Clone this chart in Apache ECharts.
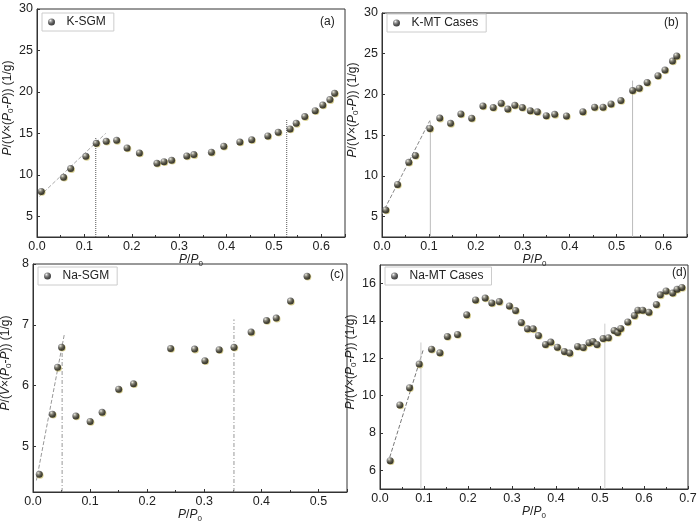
<!DOCTYPE html>
<html>
<head>
<meta charset="utf-8">
<script src="https://cdn.jsdelivr.net/npm/echarts@6/dist/echarts.min.js"></script>
<style>
  html, body { margin: 0; padding: 0; background: #fff; }
  #main { width: 700px; height: 522px; }
</style>
</head>
<body>
<div id="main"></div>
<script>
// 数据 (P/P0, P/(V(P0-P)))
var kSgm = [[0.009,8.0],[0.056,9.7],[0.071,10.75],[0.103,12.23],[0.125,13.8],[0.146,14.04],[0.168,14.16],[0.19,13.24],[0.216,12.64],[0.253,11.39],[0.268,11.59],[0.284,11.75],[0.316,12.27],[0.331,12.44],[0.368,12.72],[0.394,13.44],[0.428,13.96],[0.453,14.24],[0.487,14.69],[0.509,15.13],[0.534,15.53],[0.547,16.21],[0.565,17.02],[0.587,17.74],[0.603,18.42],[0.618,19.07],[0.628,19.83]];
var kMt = [[0.008,5.82],[0.033,8.95],[0.057,11.67],[0.071,12.5],[0.102,15.83],[0.123,17.1],[0.146,16.45],[0.168,17.6],[0.191,17.07],[0.215,18.59],[0.237,18.39],[0.254,18.92],[0.268,18.22],[0.283,18.67],[0.299,18.39],[0.316,18.01],[0.331,17.89],[0.35,17.4],[0.368,17.56],[0.393,17.36],[0.428,17.89],[0.453,18.43],[0.471,18.43],[0.488,18.84],[0.509,19.25],[0.534,20.49],[0.548,20.77],[0.565,21.47],[0.588,22.3],[0.603,23.0],[0.619,24.11],[0.628,24.73]];
var naSgm = [[0.011,4.54],[0.034,5.53],[0.043,6.3],[0.05,6.63],[0.075,5.5],[0.1,5.41],[0.121,5.56],[0.15,5.94],[0.176,6.03],[0.241,6.61],[0.283,6.6],[0.301,6.41],[0.326,6.59],[0.352,6.63],[0.382,6.88],[0.409,7.07],[0.426,7.11],[0.451,7.39],[0.48,7.8]];
var naMt = [[0.023,6.52],[0.045,9.5],[0.067,10.43],[0.089,11.69],[0.117,12.49],[0.136,12.3],[0.153,13.17],[0.176,13.28],[0.197,14.33],[0.217,15.13],[0.239,15.23],[0.254,14.97],[0.271,15.04],[0.294,14.81],[0.308,14.56],[0.321,13.92],[0.335,13.58],[0.348,13.58],[0.36,13.22],[0.376,12.74],[0.388,12.87],[0.403,12.6],[0.419,12.37],[0.431,12.28],[0.449,12.64],[0.462,12.58],[0.475,12.83],[0.484,12.9],[0.493,12.74],[0.507,13.06],[0.519,13.1],[0.532,13.49],[0.54,13.38],[0.547,13.6],[0.563,13.95],[0.578,14.29],[0.586,14.58],[0.597,14.58],[0.611,14.47],[0.628,14.88],[0.637,15.4],[0.65,15.61],[0.665,15.5],[0.675,15.7],[0.686,15.8]];

// 拟合虚线
var kSgmFit = [[0.005,7.4],[0.145,15.0]];
var kMtFit = [[0.0,5.3],[0.102,16.8]];
var naSgmFit = [[0.006,4.44],[0.055,6.85]];
var naMtFit = [[0.018,6.39],[0.098,12.44]];

// 竖线 [x, 顶端y]
var kSgmMarks = [[0.124,14.5],[0.527,16.7]];
var kMtMarks = [[0.103,16.7],[0.534,21.7]];
var naSgmMarks = [[0.051,6.65],[0.352,7.09]];
var naMtMarks = [[0.093,12.85],[0.511,13.86]];

// 坐标轴
var yMin = [2.5, 2.5, 4.25, 5];
var yMax = [30, 30, 8, 17];
var yTicks = [[5,10,15,20,25,30],[5,10,15,20,25,30],[5,6,7,8],[6,8,10,12,14,16]];
var xMax = [0.65, 0.65, 0.55, 0.7];
var names = ['K-SGM', 'K-MT Cases', 'Na-SGM', 'Na-MT Cases'];
var tags = ['(a)', '(b)', '(c)', '(d)'];

var FONT = 'Liberation Sans, Arial, sans-serif';
var grids = [
    {left: 37, top: 9, width: 308, height: 228},
    {left: 382, top: 13, width: 305, height: 224},
    {left: 33, top: 264, width: 314, height: 228},
    {left: 380, top: 265, width: 308, height: 224}
];
var legendPos = [[42, 13], [387, 14], [38, 267], [385, 267]];
var tagPos = [[320, 16], [664, 17], [330, 269], [672, 267]];
var fitColor = ['#aaa', '#888', '#999', '#777'];
var markStyle = [
    {color: '#555', type: 'dotted', width: 1},
    {color: '#bbb', type: 'solid', width: 1},
    {color: '#999', type: [4, 2, 1, 2], width: 1},
    {color: '#ccc', type: 'solid', width: 1}
];
var sets = [kSgm, kMt, naSgm, naMt];
var fits = [kSgmFit, kMtFit, naSgmFit, naMtFit];
var marks = [kSgmMarks, kMtMarks, naSgmMarks, naMtMarks];

var ballStyle = {
    color: {
        type: 'radial', x: 0.35, y: 0.3, r: 0.75,
        colorStops: [
            {offset: 0, color: '#f2f2f2'},
            {offset: 0.3, color: '#7a7a7a'},
            {offset: 0.65, color: '#2a2a2a'},
            {offset: 1, color: '#0d0d0d'}
        ]
    },
    shadowColor: 'rgba(170,150,10,0.55)',
    shadowOffsetX: 0.8,
    shadowOffsetY: 0.8,
    shadowBlur: 0.5
};

var richName = {
    i: {fontStyle: 'italic', fontSize: 12, fontFamily: FONT, color: '#222'},
    n: {fontSize: 12, fontFamily: FONT, color: '#222'},
    sub: {fontSize: 8, fontFamily: FONT, color: '#222', padding: [7, 0, 0, 0]}
};

var option = {
    animation: false,
    backgroundColor: '#fff',
    textStyle: {fontFamily: FONT},
    grid: [], xAxis: [], yAxis: [], series: [], legend: [], title: []
};

for (var k = 0; k < 4; k++) {
    var g = grids[k];
    option.grid.push({
        left: g.left, top: g.top, width: g.width, height: g.height,
        show: true, borderColor: '#333', borderWidth: 1,
        outerBoundsMode: 'none'
    });
    option.xAxis.push({
        type: 'value', gridIndex: k, min: 0, max: xMax[k], interval: 0.1,
        name: '{i|P}{n|/}{i|P}{sub|0}', nameLocation: 'middle', nameGap: 15,
        nameTextStyle: {rich: richName},
        axisLine: {lineStyle: {color: '#333'}},
        axisTick: {inside: true, length: 3, lineStyle: {color: '#333'}},
        minorTick: {show: true, splitNumber: 2, length: 2, lineStyle: {color: '#333'}},
        axisLabel: {fontSize: 12.5, color: '#222', margin: 3, showMaxLabel: k === 3,
            formatter: function (v) { return v.toFixed(1); }},
        splitLine: {show: false}
    });
    option.yAxis.push({
        type: 'value', gridIndex: k, min: yMin[k], max: yMax[k],
        name: '{i|P}{n|/(}{i|V}{n|×(}{i|P}{sub|0}{n|-}{i|P}{n|)) (1/g)}',
        nameLocation: 'middle', nameGap: 20,
        nameTextStyle: {rich: richName, padding: [0, 0, 0, 30]},
        axisLine: {lineStyle: {color: '#333'}},
        axisTick: {inside: true, length: 3, customValues: yTicks[k], lineStyle: {color: '#333'}},
        axisLabel: {fontSize: 12.5, color: '#222', margin: 4, customValues: yTicks[k]},
        splitLine: {show: false}
    });
    option.series.push({
        type: 'line', xAxisIndex: k, yAxisIndex: k, data: fits[k], symbol: 'none', silent: true,
        lineStyle: {color: fitColor[k], type: 'dashed', width: 1}, z: 1
    });
    for (var m = 0; m < marks[k].length; m++) {
        option.series.push({
            type: 'line', xAxisIndex: k, yAxisIndex: k, symbol: 'none', silent: true,
            data: [[marks[k][m][0], yMin[k]], [marks[k][m][0], marks[k][m][1]]],
            lineStyle: markStyle[k], z: 1
        });
    }
    option.series.push({
        name: names[k], type: 'scatter', xAxisIndex: k, yAxisIndex: k,
        data: sets[k], symbolSize: 7, itemStyle: ballStyle, z: 3
    });
    option.legend.push({
        data: [names[k]], left: legendPos[k][0], top: legendPos[k][1],
        orient: 'vertical', padding: [3, 8, 3, 6], itemWidth: 20, itemHeight: 7,
        borderColor: '#ccc', borderWidth: 1, borderRadius: 0,
        textStyle: {fontSize: 12, color: '#222', fontFamily: FONT}
    });
    option.title.push({
        text: tags[k], left: tagPos[k][0], top: tagPos[k][1], padding: 0,
        textStyle: {fontSize: 12, fontWeight: 'normal', color: '#222', fontFamily: FONT}
    });
}

var chart = echarts.init(document.getElementById('main'));
chart.setOption(option);
</script>
</body>
</html>
